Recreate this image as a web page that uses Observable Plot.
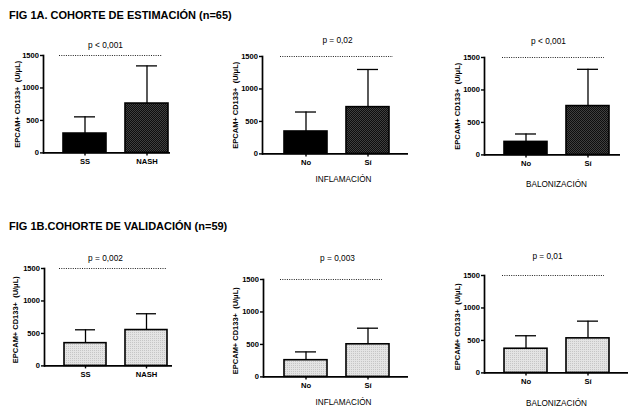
<!DOCTYPE html>
<html><head><meta charset="utf-8">
<script src="https://cdn.jsdelivr.net/npm/d3@7"></script>
<script src="https://cdn.jsdelivr.net/npm/@observablehq/plot@0.6"></script>
<style>
html,body{margin:0;padding:0;background:#fff;}
#root{position:relative;width:632px;height:410px;overflow:hidden;font-family:"Liberation Sans",Arial,Helvetica,sans-serif;color:#000;}
.title{position:absolute;left:9px;font-size:11px;font-weight:bold;line-height:11px;white-space:nowrap;}
.panel{position:absolute;}
</style></head>
<body><div id="root">
<svg width="0" height="0" style="position:absolute">
<defs>
<pattern id="dark" width="2" height="2" patternUnits="userSpaceOnUse">
<rect width="2" height="2" fill="#0e0e0e"/><rect width="1" height="1" fill="#404040"/><rect x="1" y="1" width="1" height="1" fill="#404040"/>
</pattern>
<pattern id="light" width="2" height="2" patternUnits="userSpaceOnUse">
<rect width="2" height="2" fill="#e4e4e4"/><rect width="1" height="1" fill="#c6c6c6"/>
</pattern>
</defs></svg>
</div>
<script>
// ---- data ----
const titles = ["FIG 1A. COHORTE DE ESTIMACIÓN (n=65)", "FIG 1B.COHORTE DE VALIDACIÓN (n=59)"];
const yTitle = "EPCAM+ CD133+  (U/\u03bcL)";
const yTicks = [0, 500, 1000, 1500];
const yMax = 1500;
const catsNash = ["SS", "NASH"];
const catsYesNo = ["No", "Sí"];
const est_nash_mean = [298, 760],  est_nash_sd = [257, 580];
const est_infl_mean = [345, 720],  est_infl_sd = [300, 580];
const est_balo_mean = [200, 752],  est_balo_sd = [122, 566];
const val_nash_mean = [350, 552],  val_nash_sd = [206, 251];
const val_infl_mean = [257, 502],  val_infl_sd = [128, 248];
const val_balo_mean = [372, 532],  val_balo_sd = [200, 265];
const pValues = ["p < 0,001", "p = 0,02", "p < 0,001", "p = 0,002", "p = 0,003", "p = 0,01"];
const xTitles = [null, "INFLAMACIÓN", "BALONIZACIÓN", null, "INFLAMACIÓN", "BALONIZACIÓN"];

const panels = [
  {cats: catsNash,  mean: est_nash_mean, sd: est_nash_sd},
  {cats: catsYesNo, mean: est_infl_mean, sd: est_infl_sd},
  {cats: catsYesNo, mean: est_balo_mean, sd: est_balo_sd},
  {cats: catsNash,  mean: val_nash_mean, sd: val_nash_sd},
  {cats: catsYesNo, mean: val_infl_mean, sd: val_infl_sd},
  {cats: catsYesNo, mean: val_balo_mean, sd: val_balo_sd}
];

// ---- layout / styles ----
const topFills = ["#000", "url(#dark)"], botFills = ["url(#light)", "url(#light)"];
const layout = [
  {ax: 43,  yTop: 54.6,  end: 127, b: [20, 125], dot: [16, 8],  p: [62, -10.5], xt: null,     yt: [-26, 0],   fills: topFills},
  {ax: 262, yTop: 55.7,  end: 146, b: [22, 127], dot: [18, 15], p: [75, -16],   xt: [81, 25], yt: [-27, 0],   fills: topFills},
  {ax: 484, yTop: 57.3,  end: 136, b: [20, 125], dot: [18, 16], p: [64, -16],   xt: [72, 29], yt: [-27, 0],   fills: topFills},
  {ax: 44,  yTop: 268.3, end: 128, b: [20, 124], dot: [15, 5],  p: [61, -10],   xt: null,     yt: [-29, 2.5], fills: botFills},
  {ax: 263, yTop: 278.8, end: 145, b: [21, 126], dot: [17, 26], p: [74, -21.5], xt: [80, 25], yt: [-28, 2.5], fills: botFills},
  {ax: 484, yTop: 275.3, end: 144, b: [20, 125], dot: [18, 24], p: [63, -19.5], xt: [72, 30], yt: [-27, 2.5], fills: botFills}
];

const root = document.getElementById("root");
const titleTops = [10, 220.7];
titles.forEach((t, i) => {
  const d = document.createElement("div");
  d.className = "title"; d.textContent = t; d.style.top = titleTops[i] + "px";
  root.appendChild(d);
});

const FONT = '"Liberation Sans", Arial, Helvetica, sans-serif';
const mL = 40, mT = 30, mB = 45, mR = 10, fh = 97.4;

panels.forEach((P, i) => {
  const L = layout[i];
  const data = P.cats.map((c, j) => ({cat: c, mean: P.mean[j], top: P.mean[j] + P.sd[j]}));
  const marks = [
    Plot.ruleX(data, {x: "cat", y1: "mean", y2: "top", stroke: "#000", strokeWidth: 1.3}),
    Plot.tickY(data, {x: "cat", y: "top", insetLeft: 11, insetRight: 11, stroke: "#000", strokeWidth: 1.3}),
    ...data.map((d, j) => Plot.barY([d], {x: "cat", y: "mean", fill: L.fills[j], stroke: "#000", strokeWidth: 1.6})),
    Plot.ruleY([yMax], {insetLeft: L.dot[0], insetRight: L.dot[1], stroke: "#222", strokeWidth: 1.1, strokeDasharray: "1,1.3"}),
    Plot.axisY(yTicks, {tickSize: 3, tickPadding: 1.5, strokeWidth: 1.4, tickFormat: d3.format("d"), label: null}),
    Plot.axisX({tickSize: 3, tickPadding: 2.5, strokeWidth: 1.4, label: null}),
    Plot.frame({anchor: "left", stroke: "#000", strokeWidth: 1.7}),
    Plot.ruleY([0], {stroke: "#000", strokeWidth: 1.7}),
    Plot.text([yTitle], {text: d => d, frameAnchor: "left", rotate: -90, dx: L.yt[0], dy: L.yt[1], textAnchor: "middle", lineAnchor: "middle", fontWeight: "bold", fontSize: 7.5}),
    Plot.text([pValues[i]], {text: d => d, frameAnchor: "top-left", dx: L.p[0], dy: L.p[1], textAnchor: "middle", lineAnchor: "middle", fontWeight: "normal", fontSize: 8.3})
  ];
  if (xTitles[i]) {
    marks.push(Plot.text([xTitles[i]], {text: d => d, frameAnchor: "bottom-left", dx: L.xt[0], dy: L.xt[1], textAnchor: "middle", lineAnchor: "middle", fontWeight: "normal", fontSize: 8.2}));
  }
  const chart = Plot.plot({
    width: mL + L.end + mR,
    height: mT + fh + mB,
    marginLeft: mL, marginRight: mR, marginTop: mT, marginBottom: mB,
    style: {fontFamily: FONT, fontSize: "7.6px", fontWeight: "bold", color: "#000", background: "transparent", overflow: "visible"},
    x: {domain: P.cats, range: [mL + L.b[0], mL + L.b[1]], paddingInner: 0.31, paddingOuter: 0, label: null},
    y: {domain: [0, yMax], label: null},
    marks
  });
  chart.classList.add("panel");
  chart.style.left = (L.ax - mL) + "px";
  chart.style.top = (L.yTop - mT) + "px";
  root.appendChild(chart);
});
</script>
</body></html>
